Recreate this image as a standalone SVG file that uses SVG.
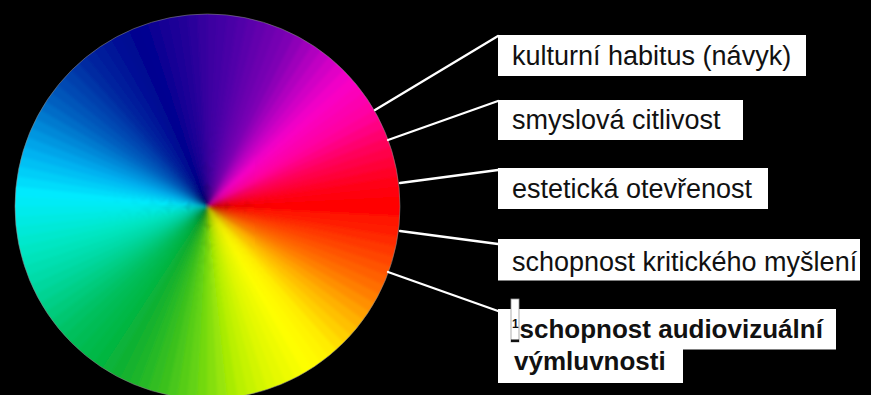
<svg xmlns="http://www.w3.org/2000/svg" width="871" height="395" viewBox="0 0 871 395">
<style>
.w{fill:none;stroke-width:200;stroke-dasharray:6 700}
.box{fill:#ffffff}
.lbl{font-family:"Liberation Sans",Arial,sans-serif;font-size:27px;fill:#111111}
.bold{font-family:"Liberation Sans",Arial,sans-serif;font-size:26px;font-weight:bold;fill:#111111}
.conn line{stroke:#ffffff;stroke-width:2.3;stroke-linecap:round}
</style>
<defs>
<clipPath id="disc"><circle cx="207.5" cy="206.5" r="192.5"/></clipPath>
<filter id="soft" filterUnits="userSpaceOnUse" x="0" y="0" width="420" height="420"><feGaussianBlur stdDeviation="1.5"/></filter>
</defs>
<rect x="0" y="0" width="871" height="395" fill="#000000"/>
<g id="wheel">
<g clip-path="url(#disc)">
<g filter="url(#soft)">
<g transform="translate(207.5 206.5)">
<circle class="w" r="100" style="stroke:#ff0600" transform="rotate(0)"/>
<circle class="w" r="100" style="stroke:#ff1200" transform="rotate(3)"/>
<circle class="w" r="100" style="stroke:#ff1e00" transform="rotate(6)"/>
<circle class="w" r="100" style="stroke:#ff2a00" transform="rotate(9)"/>
<circle class="w" r="100" style="stroke:#ff3700" transform="rotate(12)"/>
<circle class="w" r="100" style="stroke:#ff4500" transform="rotate(15)"/>
<circle class="w" r="100" style="stroke:#ff5200" transform="rotate(18)"/>
<circle class="w" r="100" style="stroke:#ff6000" transform="rotate(21)"/>
<circle class="w" r="100" style="stroke:#ff6e00" transform="rotate(24)"/>
<circle class="w" r="100" style="stroke:#ff7e00" transform="rotate(27)"/>
<circle class="w" r="100" style="stroke:#ff8f00" transform="rotate(30)"/>
<circle class="w" r="100" style="stroke:#ffa000" transform="rotate(33)"/>
<circle class="w" r="100" style="stroke:#ffb100" transform="rotate(36)"/>
<circle class="w" r="100" style="stroke:#ffc000" transform="rotate(39)"/>
<circle class="w" r="100" style="stroke:#ffcf00" transform="rotate(42)"/>
<circle class="w" r="100" style="stroke:#ffde00" transform="rotate(45)"/>
<circle class="w" r="100" style="stroke:#ffed00" transform="rotate(48)"/>
<circle class="w" r="100" style="stroke:#fff400" transform="rotate(51)"/>
<circle class="w" r="100" style="stroke:#fffa00" transform="rotate(54)"/>
<circle class="w" r="100" style="stroke:#fefe00" transform="rotate(57)"/>
<circle class="w" r="100" style="stroke:#f6fd00" transform="rotate(60)"/>
<circle class="w" r="100" style="stroke:#eefb00" transform="rotate(63)"/>
<circle class="w" r="100" style="stroke:#e6f900" transform="rotate(66)"/>
<circle class="w" r="100" style="stroke:#def800" transform="rotate(69)"/>
<circle class="w" r="100" style="stroke:#d2f500" transform="rotate(72)"/>
<circle class="w" r="100" style="stroke:#c6f300" transform="rotate(75)"/>
<circle class="w" r="100" style="stroke:#baf000" transform="rotate(78)"/>
<circle class="w" r="100" style="stroke:#a9eb03" transform="rotate(81)"/>
<circle class="w" r="100" style="stroke:#97e507" transform="rotate(84)"/>
<circle class="w" r="100" style="stroke:#85df0b" transform="rotate(87)"/>
<circle class="w" r="100" style="stroke:#73d90f" transform="rotate(90)"/>
<circle class="w" r="100" style="stroke:#64d313" transform="rotate(93)"/>
<circle class="w" r="100" style="stroke:#56cd17" transform="rotate(96)"/>
<circle class="w" r="100" style="stroke:#48c71b" transform="rotate(99)"/>
<circle class="w" r="100" style="stroke:#3ac11f" transform="rotate(102)"/>
<circle class="w" r="100" style="stroke:#30bd23" transform="rotate(105)"/>
<circle class="w" r="100" style="stroke:#27b927" transform="rotate(108)"/>
<circle class="w" r="100" style="stroke:#1eb52b" transform="rotate(111)"/>
<circle class="w" r="100" style="stroke:#15b22e" transform="rotate(114)"/>
<circle class="w" r="100" style="stroke:#0eb133" transform="rotate(117)"/>
<circle class="w" r="100" style="stroke:#0ab33a" transform="rotate(120)"/>
<circle class="w" r="100" style="stroke:#05b640" transform="rotate(123)"/>
<circle class="w" r="100" style="stroke:#01b847" transform="rotate(126)"/>
<circle class="w" r="100" style="stroke:#00ba4e" transform="rotate(129)"/>
<circle class="w" r="100" style="stroke:#00bc55" transform="rotate(132)"/>
<circle class="w" r="100" style="stroke:#00bf5c" transform="rotate(135)"/>
<circle class="w" r="100" style="stroke:#00c266" transform="rotate(138)"/>
<circle class="w" r="100" style="stroke:#00c671" transform="rotate(141)"/>
<circle class="w" r="100" style="stroke:#00cb7c" transform="rotate(144)"/>
<circle class="w" r="100" style="stroke:#00cf87" transform="rotate(147)"/>
<circle class="w" r="100" style="stroke:#00d393" transform="rotate(150)"/>
<circle class="w" r="100" style="stroke:#00d79e" transform="rotate(153)"/>
<circle class="w" r="100" style="stroke:#00dba8" transform="rotate(156)"/>
<circle class="w" r="100" style="stroke:#00dfb1" transform="rotate(159)"/>
<circle class="w" r="100" style="stroke:#00e3ba" transform="rotate(162)"/>
<circle class="w" r="100" style="stroke:#00e6c3" transform="rotate(165)"/>
<circle class="w" r="100" style="stroke:#00e8cd" transform="rotate(168)"/>
<circle class="w" r="100" style="stroke:#00e9d8" transform="rotate(171)"/>
<circle class="w" r="100" style="stroke:#00eae2" transform="rotate(174)"/>
<circle class="w" r="100" style="stroke:#00ebec" transform="rotate(177)"/>
<circle class="w" r="100" style="stroke:#00ebf6" transform="rotate(180)"/>
<circle class="w" r="100" style="stroke:#00eafe" transform="rotate(183)"/>
<circle class="w" r="100" style="stroke:#00dcfb" transform="rotate(186)"/>
<circle class="w" r="100" style="stroke:#00cef8" transform="rotate(189)"/>
<circle class="w" r="100" style="stroke:#00c0f4" transform="rotate(192)"/>
<circle class="w" r="100" style="stroke:#00b2f1" transform="rotate(195)"/>
<circle class="w" r="100" style="stroke:#00a4e9" transform="rotate(198)"/>
<circle class="w" r="100" style="stroke:#0096e0" transform="rotate(201)"/>
<circle class="w" r="100" style="stroke:#0088d8" transform="rotate(204)"/>
<circle class="w" r="100" style="stroke:#007acf" transform="rotate(207)"/>
<circle class="w" r="100" style="stroke:#006cc7" transform="rotate(210)"/>
<circle class="w" r="100" style="stroke:#005ebf" transform="rotate(213)"/>
<circle class="w" r="100" style="stroke:#0054b9" transform="rotate(216)"/>
<circle class="w" r="100" style="stroke:#0049b3" transform="rotate(219)"/>
<circle class="w" r="100" style="stroke:#003fad" transform="rotate(222)"/>
<circle class="w" r="100" style="stroke:#0034a7" transform="rotate(225)"/>
<circle class="w" r="100" style="stroke:#002aa1" transform="rotate(228)"/>
<circle class="w" r="100" style="stroke:#00229e" transform="rotate(231)"/>
<circle class="w" r="100" style="stroke:#001c9b" transform="rotate(234)"/>
<circle class="w" r="100" style="stroke:#001598" transform="rotate(237)"/>
<circle class="w" r="100" style="stroke:#000e96" transform="rotate(240)"/>
<circle class="w" r="100" style="stroke:#000893" transform="rotate(243)"/>
<circle class="w" r="100" style="stroke:#000190" transform="rotate(246)"/>
<circle class="w" r="100" style="stroke:#060091" transform="rotate(249)"/>
<circle class="w" r="100" style="stroke:#0d0093" transform="rotate(252)"/>
<circle class="w" r="100" style="stroke:#130095" transform="rotate(255)"/>
<circle class="w" r="100" style="stroke:#1a0097" transform="rotate(258)"/>
<circle class="w" r="100" style="stroke:#220098" transform="rotate(261)"/>
<circle class="w" r="100" style="stroke:#2a009b" transform="rotate(264)"/>
<circle class="w" r="100" style="stroke:#34009e" transform="rotate(267)"/>
<circle class="w" r="100" style="stroke:#3c00a1" transform="rotate(270)"/>
<circle class="w" r="100" style="stroke:#4300a4" transform="rotate(273)"/>
<circle class="w" r="100" style="stroke:#4a00a6" transform="rotate(276)"/>
<circle class="w" r="100" style="stroke:#5100a9" transform="rotate(279)"/>
<circle class="w" r="100" style="stroke:#5a00ab" transform="rotate(282)"/>
<circle class="w" r="100" style="stroke:#6300ad" transform="rotate(285)"/>
<circle class="w" r="100" style="stroke:#6c00af" transform="rotate(288)"/>
<circle class="w" r="100" style="stroke:#7500b2" transform="rotate(291)"/>
<circle class="w" r="100" style="stroke:#7e00b4" transform="rotate(294)"/>
<circle class="w" r="100" style="stroke:#8e00b7" transform="rotate(297)"/>
<circle class="w" r="100" style="stroke:#9f00bb" transform="rotate(300)"/>
<circle class="w" r="100" style="stroke:#b000bf" transform="rotate(303)"/>
<circle class="w" r="100" style="stroke:#c100c3" transform="rotate(306)"/>
<circle class="w" r="100" style="stroke:#d100c5" transform="rotate(309)"/>
<circle class="w" r="100" style="stroke:#e100c6" transform="rotate(312)"/>
<circle class="w" r="100" style="stroke:#f000c7" transform="rotate(315)"/>
<circle class="w" r="100" style="stroke:#f900c3" transform="rotate(318)"/>
<circle class="w" r="100" style="stroke:#fb00b9" transform="rotate(321)"/>
<circle class="w" r="100" style="stroke:#fc00af" transform="rotate(324)"/>
<circle class="w" r="100" style="stroke:#fe00a5" transform="rotate(327)"/>
<circle class="w" r="100" style="stroke:#ff0096" transform="rotate(330)"/>
<circle class="w" r="100" style="stroke:#ff0082" transform="rotate(333)"/>
<circle class="w" r="100" style="stroke:#ff006e" transform="rotate(336)"/>
<circle class="w" r="100" style="stroke:#ff005a" transform="rotate(339)"/>
<circle class="w" r="100" style="stroke:#ff0048" transform="rotate(342)"/>
<circle class="w" r="100" style="stroke:#ff0037" transform="rotate(345)"/>
<circle class="w" r="100" style="stroke:#ff0026" transform="rotate(348)"/>
<circle class="w" r="100" style="stroke:#ff0016" transform="rotate(351)"/>
<circle class="w" r="100" style="stroke:#ff000e" transform="rotate(354)"/>
<circle class="w" r="100" style="stroke:#ff0004" transform="rotate(357)"/>
</g>
</g>
</g>
<circle cx="207.5" cy="206.5" r="192.5" fill="none" stroke="#8a8a8a" stroke-width="0.8" stroke-opacity="0.7"/>
</g>
<g id="connectors" class="conn">
<line x1="375" y1="110" x2="498" y2="36"/>
<line x1="388" y1="140" x2="498" y2="101"/>
<line x1="400" y1="183" x2="498" y2="170"/>
<line x1="400" y1="231" x2="498" y2="244"/>
<line x1="388" y1="272" x2="498" y2="311"/>
</g>
<g id="node-kulturni-habitus">
<rect class="box" x="498" y="35" width="308" height="41"/>
<text class="lbl" x="512" y="64.5">kulturní habitus (návyk)</text>
</g>
<g id="node-smyslova-citlivost">
<rect class="box" x="498" y="100" width="245" height="40"/>
<text class="lbl" x="512" y="129">smyslová citlivost</text>
</g>
<g id="node-esteticka-otevrenost">
<rect class="box" x="498" y="168" width="270" height="41"/>
<text class="lbl" x="512" y="198">estetická otevřenost</text>
</g>
<g id="node-kriticke-mysleni">
<rect class="box" x="498" y="239" width="362" height="41.5"/>
<text class="lbl" x="512" y="271">schopnost kritického myšlení</text>
</g>
<g id="node-audiovizualni-vymluvnost">
<rect class="box" x="498" y="309" width="338" height="40.5"/>
<rect class="box" x="498" y="349" width="185" height="34"/>
<rect x="511" y="299" width="8" height="43" fill="#ffffff" stroke="#9a9a9a" stroke-width="0.8"/>
<text x="512" y="328" font-family="Liberation Sans, Arial, sans-serif" font-size="12" font-weight="bold" fill="#111111">1</text>
<rect x="511" y="339.5" width="8" height="2.5" fill="#111111"/>
<text class="bold" x="519.5" y="338">schopnost audiovizuální</text>
<text class="bold" x="514" y="370">výmluvnosti</text>
</g>
</svg>
